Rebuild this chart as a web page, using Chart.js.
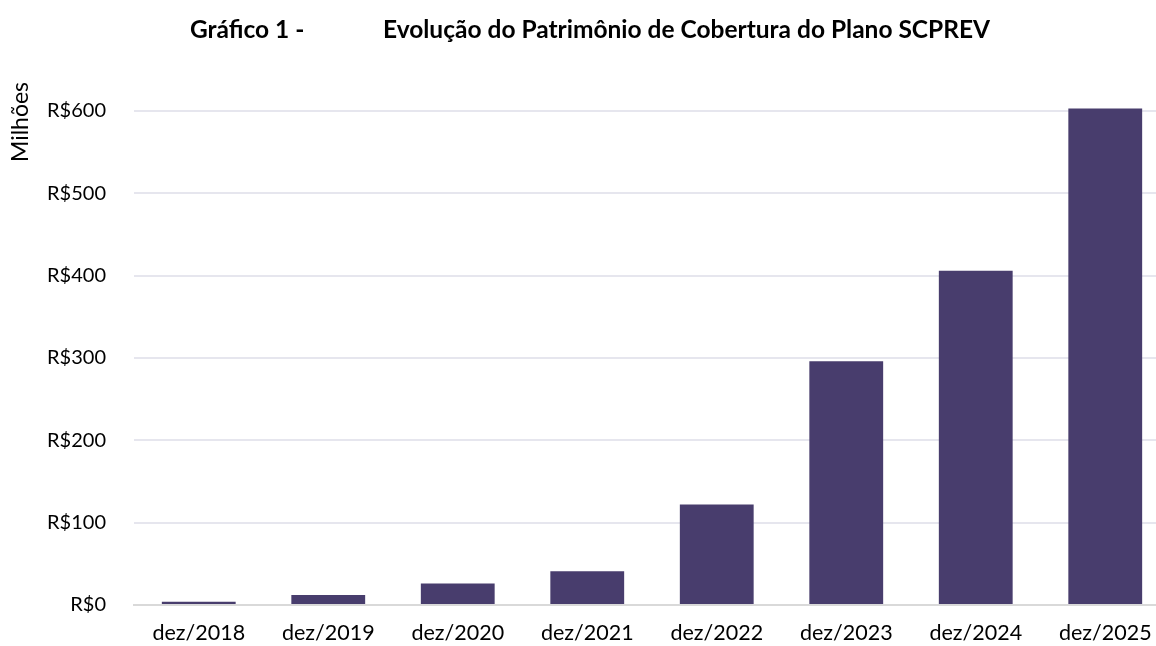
<!DOCTYPE html>
<html>
<head>
<meta charset="utf-8">
<script src="https://cdn.jsdelivr.net/npm/chart.js@4"></script>
<style>
  html, body { margin: 0; padding: 0; background: #fff; overflow: hidden; }
  #wrap { width: 1172px; height: 646px; position: relative; }
</style>
</head>
<body>
<div id="wrap"><canvas id="chart"></canvas></div>
<script>
// =================== DATA =================== //
const categories = ['dez/2018', 'dez/2019', 'dez/2020', 'dez/2021', 'dez/2022', 'dez/2023', 'dez/2024', 'dez/2025'];
const patrimonio = [4, 12, 26, 41, 122, 296, 406, 603]; // R$ milhões
const tickValues = [0, 100, 200, 300, 400, 500, 600];

const chartTitleLeft = 'Gráfico 1 -';
const chartTitleRight = 'Evolução do Patrimônio de Cobertura do Plano SCPREV';
const axisTitle = 'Milhões';

const FONT = 'Lato, "Open Sans", sans-serif';

// draws title + rotated axis title at fixed spots (Excel style)
const textPlugin = {
    id: 'textPlugin',
    afterDraw(chart) {
        const ctx = chart.ctx;
        ctx.save();
        ctx.fillStyle = '#000';
        ctx.font = 'bold 24.5px ' + FONT;
        ctx.textBaseline = 'middle';
        ctx.textAlign = 'left';
        ctx.fillText(chartTitleLeft, 190, 30);
        ctx.fillText(chartTitleRight, 383, 30);

        ctx.font = '23px ' + FONT;
        ctx.translate(21, 122);
        ctx.rotate(-Math.PI / 2);
        ctx.textAlign = 'center';
        ctx.fillText(axisTitle, 0, 0);
        ctx.restore();
    }
};

new Chart(document.getElementById('chart'), {
    type: 'bar',
    data: {
        labels: categories,
        datasets: [{
            data: patrimonio,
            backgroundColor: '#483d6d',
            borderWidth: 0,
            barPercentage: 0.57,
            categoryPercentage: 1
        }]
    },
    options: {
        responsive: true,
        maintainAspectRatio: false,
        animation: false,
        layout: { padding: { top: 101, right: 2, left: 0, bottom: 0 } },
        plugins: {
            legend: { display: false },
            tooltip: { enabled: false }
        },
        scales: {
            x: {
                grid: { display: false, drawTicks: false },
                border: { color: '#d9d9d9', width: 2 },
                ticks: {
                    color: '#000',
                    font: { family: FONT, size: 21.5 },
                    padding: 15,
                    maxRotation: 0
                },
                afterFit(scale) { scale.height = 41; }
            },
            y: {
                min: 0,
                max: 612,
                grid: { color: '#e6e6ee', lineWidth: 2, drawTicks: false },
                border: { display: false },
                afterBuildTicks(scale) {
                    scale.ticks = tickValues.map(v => ({ value: v }));
                },
                ticks: {
                    color: '#000',
                    font: { family: FONT, size: 20 },
                    padding: 28,
                    callback: v => 'R$' + v
                },
                afterFit(scale) { scale.width = 134; }
            }
        }
    },
    plugins: [textPlugin]
});
</script>
</body>
</html>
